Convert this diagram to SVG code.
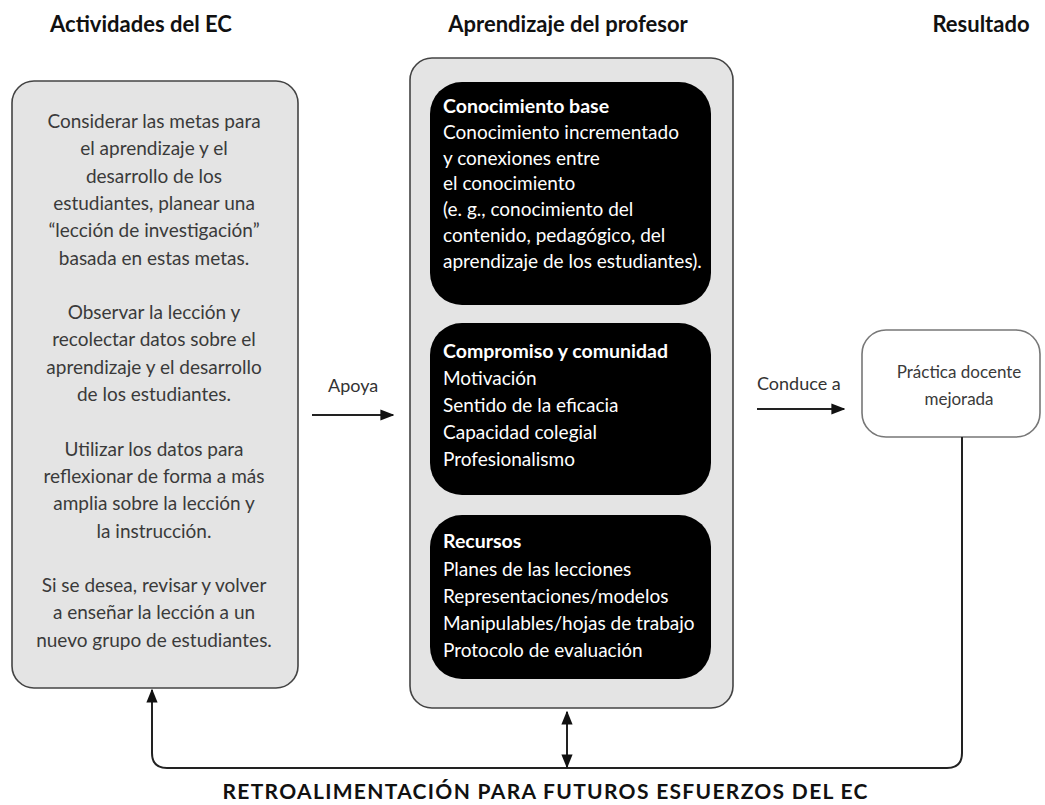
<svg xmlns="http://www.w3.org/2000/svg" width="1045" height="805" viewBox="0 0 1045 805">
<style>
.t{font-family:Lato,"Open Sans","Liberation Sans",sans-serif;}
.title{font-size:22px;font-weight:bold;fill:#111;text-anchor:middle;}
.gray{font-size:19px;fill:#3a3a3a;text-anchor:middle;}
.res{font-size:17px;fill:#3a3a3a;text-anchor:middle;}
.wh{font-size:19px;fill:#fff;}
.whb{font-size:19.5px;fill:#fff;font-weight:bold;}
.lbl{font-size:18px;fill:#333;}
.box{fill:#e4e4e4;stroke:#444;stroke-width:1.6;}
.blk{fill:#000;}
.ln{fill:none;stroke:#222;stroke-width:2;}
</style>
<defs>
<marker id="ah2" viewBox="0 0 10 10" refX="9" refY="5" markerWidth="14" markerHeight="14" markerUnits="userSpaceOnUse" orient="auto-start-reverse"><path d="M0,1 L10,5 L0,9 z" fill="#111"/></marker>
</defs>
<rect width="1045" height="805" fill="#fff"/>
<g id="titles" class="t title">
<text x="141" y="32">Actividades del EC</text>
<text x="568" y="32">Aprendizaje del profesor</text>
<text x="981" y="32">Resultado</text>
</g>
<g id="actividades">
<rect class="box" x="12" y="81" width="286" height="607" rx="22"/>
<g class="t gray">
<text x="154" y="128">Considerar las metas para</text>
<text x="154" y="155.3">el aprendizaje y el</text>
<text x="154" y="182.6">desarrollo de los</text>
<text x="154" y="209.9">estudiantes, planear una</text>
<text x="154" y="237.2">“lección de investigación”</text>
<text x="154" y="264.5">basada en estas metas.</text>
<text x="154" y="319.1">Observar la lección y</text>
<text x="154" y="346.4">recolectar datos sobre el</text>
<text x="154" y="373.7">aprendizaje y el desarrollo</text>
<text x="154" y="401">de los estudiantes.</text>
<text x="154" y="455.6">Utilizar los datos para</text>
<text x="154" y="482.9">reflexionar de forma a más</text>
<text x="154" y="510.2">amplia sobre la lección y</text>
<text x="154" y="537.5">la instrucción.</text>
<text x="154" y="592.1">Si se desea, revisar y volver</text>
<text x="154" y="619.4">a enseñar la lección a un</text>
<text x="154" y="646.7">nuevo grupo de estudiantes.</text>
</g>
</g>
<g id="aprendizaje">
<rect class="box" x="410" y="58" width="323" height="650" rx="22"/>
</g>
<g id="conocimiento">
<rect class="blk" x="430" y="82" width="281" height="223" rx="32"/>
<g class="t">
<text class="whb" x="443" y="113">Conocimiento base</text>
<text class="wh" x="443" y="138.8">Conocimiento incrementado</text>
<text class="wh" x="443" y="164.6">y conexiones entre</text>
<text class="wh" x="443" y="190.4">el conocimiento</text>
<text class="wh" x="443" y="216.2">(e. g., conocimiento del</text>
<text class="wh" x="443" y="242">contenido, pedagógico, del</text>
<text class="wh" x="443" y="267.8">aprendizaje de los estudiantes).</text>
</g>
</g>
<g id="compromiso">
<rect class="blk" x="430" y="323" width="281" height="172" rx="32"/>
<g class="t">
<text class="whb" x="443" y="358">Compromiso y comunidad</text>
<text class="wh" x="443" y="385">Motivación</text>
<text class="wh" x="443" y="412">Sentido de la eficacia</text>
<text class="wh" x="443" y="439">Capacidad colegial</text>
<text class="wh" x="443" y="466">Profesionalismo</text>
</g>
</g>
<g id="recursos">
<rect class="blk" x="430" y="515" width="281" height="164" rx="32"/>
<g class="t">
<text class="whb" x="443" y="548">Recursos</text>
<text class="wh" x="443" y="576">Planes de las lecciones</text>
<text class="wh" x="443" y="603">Representaciones/modelos</text>
<text class="wh" x="443" y="630">Manipulables/hojas de trabajo</text>
<text class="wh" x="443" y="657">Protocolo de evaluación</text>
</g>
</g>
<g id="resultado">
<rect x="862" y="330" width="178" height="107" rx="24" fill="#fff" stroke="#777" stroke-width="1.6"/>
<g class="t res">
<text x="959" y="378">Práctica docente</text>
<text x="959" y="405">mejorada</text>
</g>
</g>
<g id="connectors">
<text class="t lbl" x="328" y="392">Apoya</text>
<line class="ln" x1="312" y1="415" x2="393" y2="415" marker-end="url(#ah2)"/>
<text class="t lbl" x="757" y="390">Conduce a</text>
<line class="ln" x1="757" y1="409" x2="844" y2="409" marker-end="url(#ah2)"/>
<path class="ln" d="M962,437 V753 Q962,768 947,768 H167 Q152,768 152,753 V690" marker-end="url(#ah2)"/>
<line class="ln" x1="567" y1="712" x2="567" y2="767" marker-start="url(#ah2)" marker-end="url(#ah2)"/>
</g>
<text id="feedback" class="t" x="545" y="799" text-anchor="middle" font-size="21" font-weight="bold" fill="#111" textLength="645" lengthAdjust="spacing">RETROALIMENTACIÓN PARA FUTUROS ESFUERZOS DEL EC</text>
</svg>
